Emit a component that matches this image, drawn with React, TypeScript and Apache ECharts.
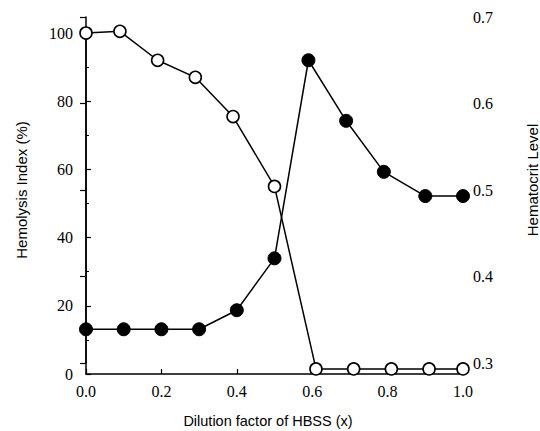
import React, { useEffect, useRef } from "react";
import * as echarts from "echarts";

const xHollow = [0, 0.09, 0.19, 0.29, 0.39, 0.5, 0.61, 0.71, 0.81, 0.91, 1.0];
const hemolysis = [100, 100.5, 92, 87, 75.5, 55, 1.5, 1.5, 1.5, 1.5, 1.5];
const xFilled = [0, 0.1, 0.2, 0.3, 0.4, 0.5, 0.59, 0.69, 0.79, 0.9, 1.0];
const hematocrit = [0.339, 0.339, 0.339, 0.339, 0.361, 0.421, 0.65, 0.58, 0.521, 0.493, 0.493];

const xTitle = "Dilution factor of HBSS (x)";
const leftTitle = "Hemolysis Index (%)";
const rightTitle = "Hematocrit Level";

const SERIF = "Liberation Serif, Times New Roman, serif";
const SANS = "Liberation Sans";

export default function App() {
  const ref = useRef<HTMLDivElement>(null);
  useEffect(() => {
    if (!ref.current) return;
    const chart = echarts.init(ref.current, undefined, { renderer: "svg" });
    const axisLine = { show: true, lineStyle: { color: "#000", width: 1.5 } };
    const label = { color: "#000", fontFamily: SERIF, fontSize: 16, fontWeight: "normal" };
    chart.setOption({
      animation: false,
      backgroundColor: "#fff",
      textStyle: { fontFamily: SERIF },
      grid: [
        { left: 86, right: 77, top: 33, bottom: 57 },
        { left: 86, right: 77, top: 17, bottom: 68 },
      ],
      xAxis: [
        {
          gridIndex: 0,
          type: "value",
          min: 0,
          max: 1,
          interval: 0.2,
          axisLine,
          axisTick: { show: true, inside: true, length: 5, lineStyle: { color: "#000", width: 1.2 } },
          splitLine: { show: false },
          axisLabel: { ...label, margin: 9, formatter: (v: number) => v.toFixed(1) },
        },
        { gridIndex: 1, type: "value", min: 0, max: 1, show: false },
      ],
      yAxis: [
        {
          gridIndex: 0,
          type: "value",
          min: 0,
          max: 100,
          interval: 20,
          axisLine,
          axisTick: { show: true, inside: true, length: 5, lineStyle: { color: "#000", width: 1.2 } },
          minorTick: { show: true, splitNumber: 2, length: 3, lineStyle: { color: "#000", width: 1 } },
          splitLine: { show: false },
          axisLabel: { ...label, margin: 13 },
        },
        {
          gridIndex: 1,
          type: "value",
          position: "right",
          min: 0.3,
          max: 0.7,
          interval: 0.1,
          axisLine,
          axisTick: { show: true, inside: true, length: 6, lineStyle: { color: "#000", width: 1.2 } },
          splitLine: { show: false },
          axisLabel: { ...label, margin: 10, formatter: (v: number) => v.toFixed(1) },
        },
      ],
      graphic: [
        {
          type: "text",
          x: 21,
          y: 190,
          rotation: Math.PI / 2,
          style: { text: leftTitle, fill: "#000", fontFamily: SANS, fontSize: 15, textAlign: "center", textVerticalAlign: "middle" },
        },
        {
          type: "text",
          x: 532,
          y: 180,
          rotation: Math.PI / 2,
          style: { text: rightTitle, fill: "#000", fontFamily: SANS, fontSize: 15, textAlign: "center", textVerticalAlign: "middle" },
        },
        {
          type: "text",
          x: 268,
          y: 421,
          style: { text: xTitle, fill: "#000", fontFamily: SANS, fontSize: 14.5, textAlign: "center", textVerticalAlign: "middle" },
        },
      ],
      series: [
        {
          type: "line",
          xAxisIndex: 1,
          yAxisIndex: 1,
          data: xFilled.map((x, i) => [x, hematocrit[i]]),
          symbol: "circle",
          symbolSize: 13,
          clip: false,
          lineStyle: { color: "#000", width: 1.5 },
          itemStyle: { color: "#000", borderColor: "#000", borderWidth: 1 },
          z: 2,
        },
        {
          type: "line",
          xAxisIndex: 0,
          yAxisIndex: 0,
          data: xHollow.map((x, i) => [x, hemolysis[i]]),
          symbol: "circle",
          symbolSize: 12,
          showAllSymbol: true,
          clip: false,
          lineStyle: { color: "#000", width: 1.5 },
          itemStyle: { color: "#fff", borderColor: "#000", borderWidth: 1.6 },
          z: 3,
        },
      ],
    });
    return () => chart.dispose();
  }, []);
  return (
    <div
      ref={ref}
      style={{ position: "absolute", left: 0, top: 0, width: 540, height: 431, background: "#fff" }}
    />
  );
}
